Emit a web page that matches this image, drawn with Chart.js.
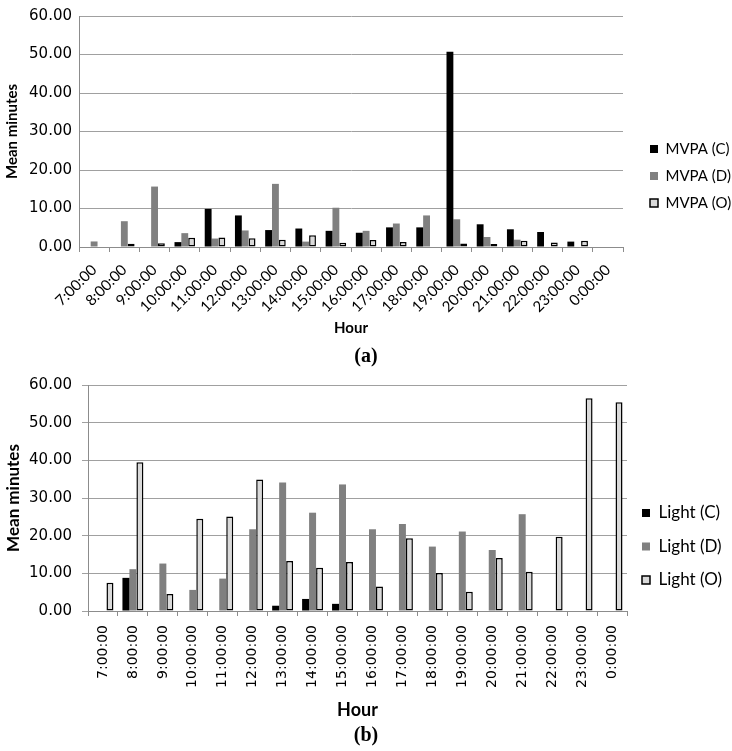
<!DOCTYPE html>
<html>
<head>
<meta charset="utf-8">
<script src="https://cdn.jsdelivr.net/npm/chart.js@4/dist/chart.umd.min.js"></script>
<style>
body { margin: 0; background: #fff; width: 732px; height: 751px; position: relative; overflow: hidden; }
canvas { position: absolute; left: 0; }
#chartA { top: 0; }
#chartB { top: 366px; }
.caption { position: absolute; left: 0; width: 732px; text-align: center; font-family: "Liberation Serif", serif; font-weight: bold; font-size: 20px; }
</style>
</head>
<body>
<canvas id="chartA" width="732" height="345"></canvas>
<div class="caption" style="top:344px">(a)</div>
<canvas id="chartB" width="732" height="357"></canvas>
<div class="caption" style="top:723px">(b)</div>
<script>
(function () {

var hours = ['7:00:00', '8:00:00', '9:00:00', '10:00:00', '11:00:00', '12:00:00', '13:00:00', '14:00:00', '15:00:00',
	'16:00:00', '17:00:00', '18:00:00', '19:00:00', '20:00:00', '21:00:00', '22:00:00', '23:00:00', '0:00:00'];

// (a) MVPA mean minutes per hour
var mvpaC = [null, null, null, 1.27, 9.9, 8.2, 4.4, 4.8, 4.2, 3.7, 5.1, 5.1, 50.7, 5.9, 4.6, 3.9, 1.4, null];
var mvpaD = [1.44, 6.7, 15.7, 3.6, 2.2, 4.3, 16.4, 1.4, 10.2, 4.2, 6.1, 8.2, 7.2, 2.6, 1.9, null, null, null];
var mvpaO = [null, 0.85, 1.0, 2.4, 2.5, 2.3, 1.9, 3.05, 1.1, 1.8, 1.3, null, 0.9, 0.8, 1.6, 1.2, 1.6, null];

// (b) Light mean minutes per hour
var lightC = [null, 8.8, null, null, null, null, 1.4, 3.2, 1.9, null, null, null, null, null, null, null, null, null];
var lightD = [null, 11.1, 12.6, 5.6, 8.6, 21.7, 34.1, 26.1, 33.6, 21.7, 23.1, 17.1, 21.1, 16.2, 25.7, null, null, null];
var lightO = [7.5, 39.5, 4.5, 24.5, 25.1, 34.9, 13.3, 11.5, 13.0, 6.5, 19.3, 10.1, 5.1, 14.1, 10.4, 19.7, 56.5, 55.4];

var yTicks = [0, 10, 20, 30, 40, 50, 60];

var BLACK = '#000000';
var GREY = '#808080';
var LIGHT = '#d9d9d9';
var GRID = '#a0a0a0';
var AXIS = '#8c8c8c';

// fixes legend width and where its first box sits
var legendPlace = {
	id: 'legendPlace',
	beforeLayout: function (chart, args, opts) {
		var lg = chart.legend;
		if (lg && !lg._fixed) {
			var fit = lg.fit;
			lg.fit = function () {
				fit.call(this);
				this.width = opts.width;
			};
			lg._fixed = true;
		}
	},
	afterLayout: function (chart, args, opts) {
		var lg = chart.legend;
		var w = lg.width;
		var hh = lg.height;
		lg.left = opts.boxX - chart.options.plugins.legend.labels.padding;
		lg.right = lg.left + w;
		lg.top = lg.top + opts.dy;
		lg.bottom = lg.top + hh;
	}
};

function makeDatasets(names, series, catPct) {
	var fills = [BLACK, GREY, LIGHT];
	var list = [];
	for (var i = 0; i < series.length; i++) {
		list.push({
			label: names[i],
			data: series[i],
			backgroundColor: fills[i],
			borderColor: BLACK,
			borderWidth: i === 2 ? 1.5 : 0,
			borderSkipped: false,
			categoryPercentage: catPct,
			barPercentage: 1.0
		});
	}
	return list;
}

function drawChart(id, cfg) {
	var ctx = document.getElementById(id);
	var h = ctx.height;
	return new Chart(ctx, {
		type: 'bar',
		data: {
			labels: hours,
			datasets: makeDatasets(cfg.names, cfg.series, cfg.catPct)
		},
		plugins: [legendPlace],
		options: {
			responsive: false,
			animation: false,
			layout: { padding: { left: 0, right: 0, top: cfg.areaTop, bottom: 0 } },
			plugins: {
				tooltip: { enabled: false },
				legendPlace: { width: ctx.width - cfg.areaRight, boxX: cfg.legendX, dy: cfg.legendDy },
				legend: {
					position: 'right',
					labels: {
						boxWidth: 8,
						boxHeight: 8,
						padding: cfg.legendPad,
						color: BLACK,
						font: { family: 'Lato', size: cfg.legendSize }
					}
				}
			},
			scales: {
				x: {
					afterFit: function (scale) { scale.height = h - cfg.areaBottom; },
					border: { color: AXIS, width: 1 },
					grid: { drawOnChartArea: false, color: AXIS, tickLength: 5 },
					ticks: {
						autoSkip: false,
						minRotation: cfg.rotation,
						maxRotation: cfg.rotation,
						padding: cfg.xPad,
						color: BLACK,
						font: cfg.xFont
					},
					title: {
						display: true,
						text: 'Hour',
						color: BLACK,
						padding: { top: 0, bottom: cfg.hourPad },
						font: { family: 'Lato', weight: 'bold', size: cfg.hourSize }
					}
				},
				y: {
					min: 0,
					max: 60,
					afterFit: function (scale) { scale.width = cfg.areaLeft; },
					afterBuildTicks: function (scale) {
						scale.ticks = yTicks.map(function (v) { return { value: v }; });
					},
					border: { color: AXIS, width: 1 },
					grid: { color: GRID, lineWidth: 1, drawTicks: cfg.yTickLen > 0, tickLength: cfg.yTickLen },
					ticks: {
						padding: cfg.yPad,
						color: BLACK,
						font: { family: 'DejaVu Sans', size: 15 },
						callback: function (v) { return Number(v).toFixed(2); }
					},
					title: {
						display: true,
						text: 'Mean minutes',
						color: BLACK,
						padding: { top: 3, bottom: 0 },
						font: { family: 'Lato', weight: 'bold', size: cfg.titleSize }
					}
				}
			}
		}
	});
}

drawChart('chartA', {
	names: ['MVPA (C)', 'MVPA (D)', 'MVPA (O)'],
	series: [mvpaC, mvpaD, mvpaO],
	catPct: 0.68,
	areaTop: 13,
	areaBottom: 247,
	areaLeft: 79,
	areaRight: 623,
	legendX: 650,
	legendDy: -3,
	legendPad: 12,
	legendSize: 15,
	rotation: 45,
	xPad: 9,
	xFont: { family: 'Lato', size: 15 },
	hourPad: 8,
	hourSize: 15,
	yTickLen: 0,
	yPad: 7,
	titleSize: 15
});

drawChart('chartB', {
	names: ['Light (C)', 'Light (D)', 'Light (O)'],
	series: [lightC, lightD, lightO],
	catPct: 0.7,
	areaTop: 16,
	areaBottom: 245,
	areaLeft: 88,
	areaRight: 627,
	legendX: 642,
	legendDy: -6,
	legendPad: 16.5,
	legendSize: 17,
	rotation: 90,
	xPad: 9,
	xFont: { family: 'DejaVu Sans', size: 14 },
	hourPad: 2,
	hourSize: 18,
	yTickLen: 6,
	yPad: 10,
	titleSize: 17
});

}());
</script>
</body>
</html>
